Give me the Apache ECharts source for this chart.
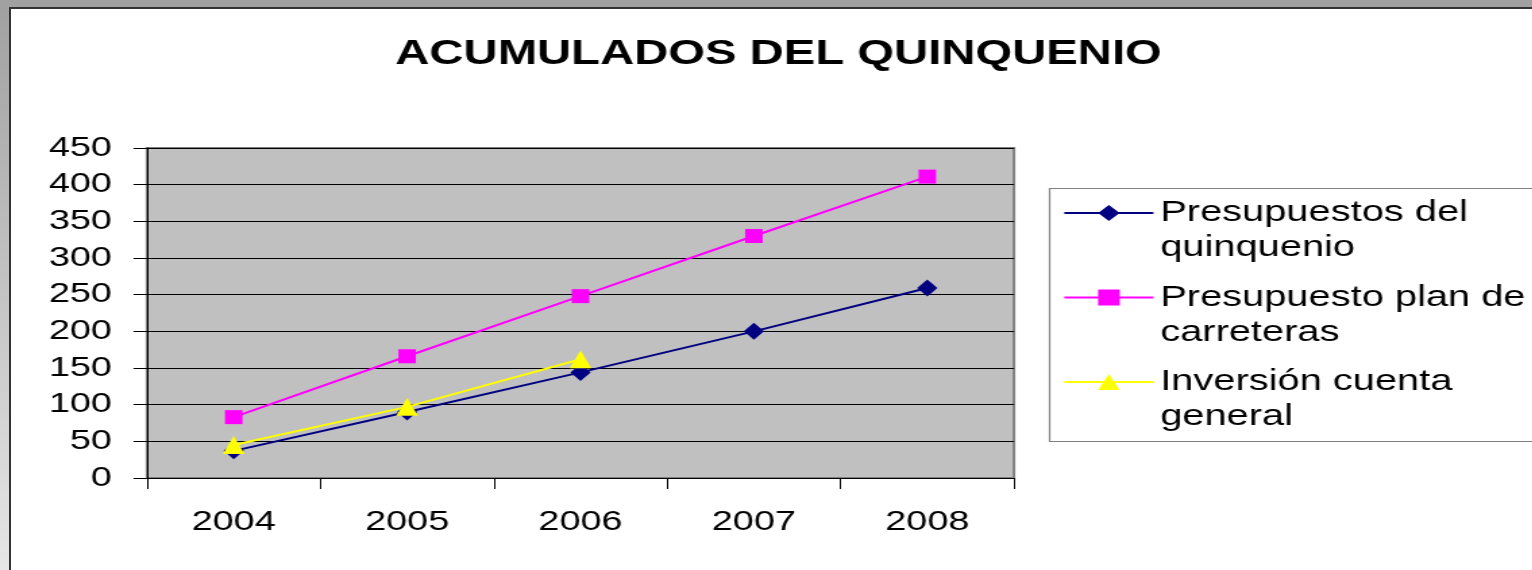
<!DOCTYPE html>
<html>
<head>
<meta charset="utf-8">
<title>Acumulados del quinquenio</title>
<script src="https://cdn.jsdelivr.net/npm/echarts@6/dist/echarts.min.js"></script>
<style>
  html, body { margin: 0; padding: 0; width: 1532px; height: 570px; overflow: hidden; }
  body { position: relative; background: linear-gradient(#a0a0a0, #e6e6e6); }
  #frame { position: absolute; left: 9px; top: 7px; width: 1540px; height: 580px; background: #fff; border-left: 2px solid #333; border-top: 2px solid #333; }
  /* the original picture is stretched sideways, so the chart is too */
  #chart { position: absolute; left: 0; top: 0; width: 1135px; height: 570px; transform: scaleX(1.35); transform-origin: 0 0; }
</style>
</head>
<body>
<div id="frame"></div>
<div id="chart"></div>
<script>
// datos
const years = ['2004', '2005', '2006', '2007', '2008']
const presupuestosQuinquenio = [37, 90, 144, 200, 259]
const planCarreteras = [83, 166, 248, 330, 411]
const inversionCuentaGeneral = [45, 97, 162]
const seriesNames = [
  'Presupuestos del\nquinquenio',
  'Presupuesto plan de\ncarreteras',
  'Inversión cuenta\ngeneral'
]
const yTicks = { min: 0, max: 450, interval: 50 }

const font = '"Liberation Sans", Arial, sans-serif'

const chart = echarts.init(document.getElementById('chart'))

const lineSeries = (name, data, color, symbol, size) => ({
  name,
  type: 'line',
  data,
  symbol,
  symbolSize: size,
  showSymbol: true,
  animation: false,
  lineStyle: { color, width: 2 },
  itemStyle: { color, borderWidth: 0 }
})

const option = {
  animation: false,
  title: {
    text: 'ACUMULADOS DEL QUINQUENIO',
    left: 576.7,
    top: 37,
    padding: 0,
    textAlign: 'center',
    textStyle: { fontFamily: font, fontSize: 35, fontWeight: 'bold', color: '#000' }
  },
  legend: {
    orient: 'vertical',
    left: 787.4,
    top: 160.5,
    padding: 0,
    itemGap: -20.5,
    itemWidth: 66,
    itemHeight: 20,
    selectedMode: false,
    // blank first line so the marker sits beside the first text line
    formatter: name => '\n' + name,
    textStyle: {
      fontFamily: font,
      fontSize: 29.5,
      lineHeight: 35,
      color: '#000'
    }
  },
  graphic: [{
    type: 'rect',
    left: 775,
    top: 186,
    shape: { width: 400, height: 253 },
    style: { fill: 'none', stroke: '#808080', lineWidth: 1.2 },
    z: 0
  }],
  grid: {
    left: 108.9,
    top: 148,
    width: 642.2,
    height: 330,
    show: true,
    backgroundColor: '#c0c0c0',
    borderColor: '#808080',
    borderWidth: 2
  },
  xAxis: {
    type: 'category',
    data: years,
    boundaryGap: true,
    axisLine: { lineStyle: { color: '#000', width: 1 } },
    axisTick: { show: true, length: 11, lineStyle: { color: '#000' } },
    axisLabel: { fontFamily: font, fontSize: 28, color: '#000', margin: 30 }
  },
  yAxis: {
    type: 'value',
    min: yTicks.min,
    max: yTicks.max,
    interval: yTicks.interval,
    axisLine: { show: true, lineStyle: { color: '#000', width: 1 } },
    axisTick: { show: true, length: 10, lineStyle: { color: '#000' } },
    axisLabel: { fontFamily: font, fontSize: 28, color: '#000', margin: 26 },
    splitLine: { show: true, lineStyle: { color: '#000', width: 1 } }
  },
  series: [
    lineSeries(seriesNames[0], presupuestosQuinquenio, '#000080', 'diamond', [15, 17]),
    lineSeries(seriesNames[1], planCarreteras, '#ff00ff', 'rect', [13, 14]),
    lineSeries(seriesNames[2], inversionCuentaGeneral, '#ffff00', 'triangle', [16, 18])
  ]
}

chart.setOption(option)
</script>
</body>
</html>
